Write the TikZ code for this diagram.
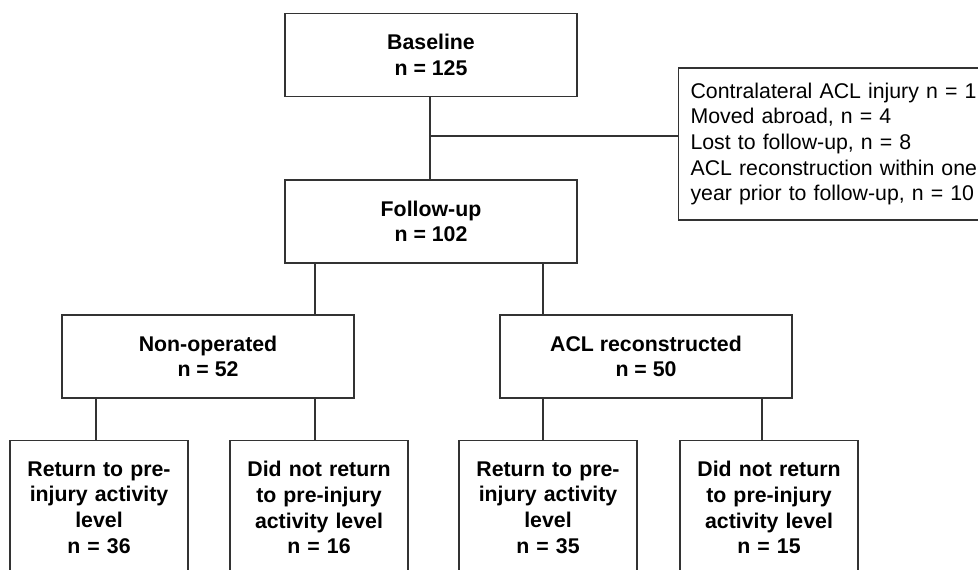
\documentclass[tikz,border=0pt]{standalone}
\usepackage{fontspec}
\setmainfont{Liberation Sans}
\begin{document}
\begin{tikzpicture}[x=1pt,y=-1pt,
  txt/.style={font=\fontsize{21.3}{25.7}\selectfont},
  box/.style={draw=black!80, line width=1.1pt, inner sep=0pt, align=center,
    font=\fontsize{21.3}{25.7}\selectfont\bfseries, text=black},
  midbox/.style={box, minimum width=292pt, minimum height=83pt},
  leafbox/.style={box, anchor=north, text width=178pt, minimum height=134pt},
  exbox/.style={draw=black!80, line width=1.1pt, anchor=west, inner xsep=12pt, inner ysep=0pt,
    text width=316pt, align=left, minimum height=152pt,
    font=\fontsize{21.3}{25.7}\selectfont, text=black},
  link/.style={draw=black!80, line width=1.1pt}]
\useasboundingbox (0,0) rectangle (978,570);
\clip (0,0) rectangle (978,570);
\fill[white] (0,0) rectangle (978,570);

\node[midbox] (base) at (431,55) {Baseline\\n = 125};
\node[midbox] (fu) at (431,221.5) {Follow-up\\n = 102};
\node[exbox] (excl) at (678,144) {Contralateral ACL injury n = 1\\Moved abroad, n = 4\\Lost to follow-up, n = 8\\ACL reconstruction within one\\year prior to follow-up, n = 10};
\node[midbox] (nonop) at (208,356.5) {Non-operated\\n = 52};
\node[midbox] (acl) at (646,356.5) {ACL reconstructed\\n = 50};
\node[leafbox] (r1) at (99,440) {Return to pre-\\injury activity\\level\\n = 36};
\node[leafbox] (r2) at (319,440) {Did not return\\to pre-injury\\activity level\\n = 16};
\node[leafbox] (r3) at (548,440) {Return to pre-\\injury activity\\level\\n = 35};
\node[leafbox] (r4) at (769,440) {Did not return\\to pre-injury\\activity level\\n = 15};

\coordinate (cA) at (96,0);
\coordinate (cB) at (315,0);
\coordinate (cC) at (543,0);
\coordinate (cD) at (762,0);
\coordinate (stem) at (430,0);
\coordinate (mid) at (430,136);

\path[link] (base.south -| stem) -- (fu.north -| stem);
\path[link] (mid) -- (mid -| excl.west);
\path[link] (fu.south -| cB) -- (nonop.north -| cB);
\path[link] (fu.south -| cC) -- (acl.north -| cC);
\path[link] (nonop.south -| cA) -- (r1.north -| cA);
\path[link] (nonop.south -| cB) -- (r2.north -| cB);
\path[link] (acl.south -| cC) -- (r3.north -| cC);
\path[link] (acl.south -| cD) -- (r4.north -| cD);
\end{tikzpicture}
\end{document}
